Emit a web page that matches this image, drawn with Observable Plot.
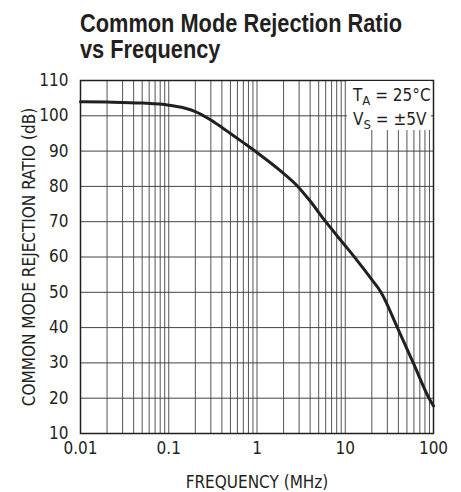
<!DOCTYPE html>
<html>
<head>
<meta charset="utf-8">
<script src="https://cdn.jsdelivr.net/npm/d3@7"></script>
<script src="https://cdn.jsdelivr.net/npm/@observablehq/plot@0.6"></script>
<style>
  body { margin: 0; background: #fff; }
  #wrap { position: relative; width: 461px; height: 492px; overflow: hidden; background: #fff;
          font-family: "DejaVu Sans Condensed", "Liberation Sans", sans-serif; }
  #title { position: absolute; left: 80px; top: 10.3px; font-size: 25px; line-height: 26px; font-weight: bold; color: #231f20;
           font-family: "Liberation Sans", Arial, sans-serif; white-space: nowrap; transform-origin: 0 0; }
  #chart { position: absolute; left: 0; top: 61px; }
  #note { position: absolute; left: 347px; top: 81px; width: 84px; height: 49px; background: #fff;
          font-size: 17px; line-height: 24px; color: #231f20; padding-left: 6px; box-sizing: border-box; padding-top: 2px; }
  #note sub { font-size: 13px; vertical-align: -4px; line-height: 0; }
</style>
</head>
<body>
<div id="wrap">
  <div id="title"><span id="t1">Common Mode Rejection Ratio</span><br><span>vs Frequency</span></div>
  <div id="chart"></div>
  <div id="note">T<sub>A</sub> = 25°C<br>V<sub>S</sub> = ±5V</div>
</div>
<script>
const freq = [0.01, 0.02, 0.05, 0.1, 0.15, 0.2, 0.3, 0.4, 0.5, 0.7, 1, 1.85, 2.9, 3.9, 6, 10, 12.6, 20, 25.3, 39, 59, 89, 100];
const cmrr = [104.0, 103.9, 103.6, 103.0, 102.2, 101.2, 98.8, 96.7, 95.0, 92.4, 89.6, 84.4, 80, 76.2, 70, 63.2, 60.1, 53.6, 50.1, 40, 30, 20, 17.8];
const xTicks = [0.01, 0.1, 1, 10, 100];
const xTickLabels = ["0.01", "0.1", "1", "10", "100"];
const yTicks = [10, 20, 30, 40, 50, 60, 70, 80, 90, 100, 110];
const xGrid = [];
for (const d of [0.01, 0.1, 1, 10]) for (let k = 1; k <= 9; k++) xGrid.push(+(d * k).toPrecision(3));
xGrid.push(100);

const data = freq.map((f, i) => ({f, v: cmrr[i]}));
const font = `"DejaVu Sans Condensed", "Liberation Sans", sans-serif`;

const chart = Plot.plot({
  width: 461,
  height: 431,
  marginTop: 19,
  marginBottom: 59,
  marginLeft: 80,
  marginRight: 28,
  style: {fontFamily: font, fontSize: "17px", color: "#231f20", background: "transparent"},
  x: {type: "log", domain: [0.01, 100]},
  y: {domain: [10, 110]},
  marks: [
    Plot.ruleX(xGrid, {stroke: "#555", strokeWidth: 1}),
    Plot.ruleY(yTicks, {stroke: "#444", strokeWidth: 1}),
    Plot.frame({stroke: "#231f20", strokeWidth: 1.5}),
    Plot.line(data, {x: "f", y: "v", curve: "monotone-x", stroke: "#231f20", strokeWidth: 3}),
    Plot.axisX({ticks: xTicks, tickFormat: (d) => xTickLabels[xTicks.indexOf(d)], tickSize: 0, tickPadding: 8,
      label: "FREQUENCY (MHz)", labelAnchor: "center", labelArrow: "none", labelOffset: 54, fontSize: 17}),
    Plot.axisY({ticks: yTicks, tickSize: 0, tickPadding: 12,
      label: "COMMON MODE REJECTION RATIO (dB)", labelAnchor: "center", labelArrow: "none", labelOffset: 58, fontSize: 17})
  ]
});
document.getElementById("chart").appendChild(chart);

const t1 = document.getElementById("t1");
const w = t1.getBoundingClientRect().width;
if (w > 0) document.getElementById("title").style.transform = `scaleX(${322 / w})`;
</script>
</body>
</html>
